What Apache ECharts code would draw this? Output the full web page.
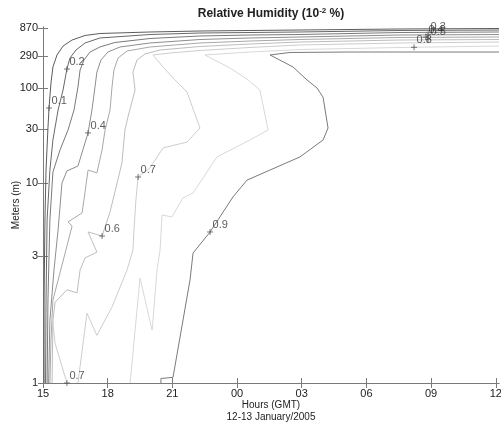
<!DOCTYPE html>
<html>
<head>
<meta charset="utf-8">
<script src="https://cdn.jsdelivr.net/npm/echarts@6/dist/echarts.min.js"></script>
<style>
  html, body { margin: 0; background: #fff; }
  #chart { width: 501px; height: 425px; }
</style>
</head>
<body>
<div id="chart"></div>
<script>
// x: hours after 15 GMT on 12 Jan, y: height in meters
const hourTicks = [0, 3, 6, 9, 12, 15, 18, 21];
const hourLabels = ["15", "18", "21", "00", "03", "06", "09", "12"];
const heightTicks = [1, 3, 10, 30, 100, 290, 870];
// where each height tick sits on the (stretched) vertical axis of the original plot
const heightTickPos = [0, 127, 200, 254, 295, 327, 355];

// contour lines, [hour, meters]
const rh01 = [[0.05,1],[0.05,2.05],[0.09,5.43],[0.14,13.0],[0.23,30.9],[0.28,55.6],[0.37,118],[0.46,201],[0.65,302],[0.93,429],[1.35,543],[1.95,649],[2.64,701],[4.96,744],[7.28,773],[9.60,789],[11.92,804],[16.56,837],[21.15,853]];
const rh02 = [[0.12,1],[0.14,2.05],[0.19,5.43],[0.32,13.0],[0.46,24.0],[0.70,52.4],[0.93,94.3],[1.11,188],[1.25,271],[1.53,367],[1.95,483],[2.64,588],[4.96,674],[7.28,715],[9.60,729],[11.92,744],[16.56,789],[21.15,804]];
const rh03 = [[0.19,1],[0.23,2.05],[0.32,5.43],[0.46,12.5],[0.79,19.6],[1.16,29.4],[1.44,52.4],[1.62,103],[1.72,182],[1.90,254],[2.18,339],[2.64,413],[3.34,493],[4.96,576],[7.28,636],[9.60,661],[11.92,674],[16.56,729],[21.15,744]];
const rh04 = [[0.26,1],[0.32,1.72],[0.51,2.66],[0.70,4.61],[0.88,10],[1.11,12.8],[1.62,14.1],[2.09,27.7],[2.27,52.4],[2.41,103],[2.50,170],[2.69,254],[3.01,339],[3.57,413],[4.96,483],[7.28,554],[9.60,588],[11.92,611],[16.56,661],[21.15,674]];
const rh05 = [[0.32,1],[0.37,1.45],[0.46,2.05],[0.88,2.77],[1.35,4.92],[1.16,5.26],[1.81,6.10],[1.90,7.55],[2.09,13.0],[2.50,12.3],[2.74,19.6],[2.88,29.4],[3.11,52.4],[3.20,103],[3.29,182],[3.48,271],[3.90,353],[4.96,413],[7.28,483],[9.60,522],[11.92,554],[16.56,600],[21.15,611]];
const rh06 = [[0.42,1],[0.46,1.72],[0.56,2.01],[1.11,2.24],[1.58,2.18],[1.72,2.66],[1.95,2.95],[2.50,3.20],[2.09,4.46],[2.74,4.17],[3.11,6.20],[3.66,15.0],[3.80,29.4],[3.94,42.7],[4.27,94.3],[4.17,170],[4.36,254],[4.73,314],[5.43,367],[7.28,421],[9.60,464],[11.92,502],[16.56,543],[21.15,554]];
const rh07 = [[21.15,502],[16.56,483],[11.92,447],[9.60,405],[7.28,360],[5.89,326],[5.10,302],[5.57,201],[6.12,131],[6.68,88.9],[7.28,30.9],[6.68,23.0],[5.57,20.4],[4.96,13.6],[4.41,11.3],[4.31,7.55],[4.22,4.61],[4.17,3.31],[3.90,2.66],[3.20,1.93],[2.50,1.51],[2.04,1.83],[1.62,1]];
const rh07b = [[0.42,1.80],[0.56,1.41],[1.11,1]];
const rh08 = [[21.15,429],[16.56,405],[11.92,374],[9.60,339],[7.51,302],[8.67,195],[9.51,131],[10.06,94.3],[10.44,29.4],[9.60,24.0],[8.07,17.0],[6.96,8.48],[6.49,7.81],[5.98,5.71],[5.52,5.90],[5.43,3.31],[5.29,2.66],[5.06,1.58],[4.50,2.48],[4.04,1]];
const rh09 = [[21.15,339],[14.24,339],[11.46,333],[10.53,302],[11.60,201],[12.24,131],[12.71,100],[12.99,76.3],[13.22,30.9],[12.99,24.0],[11.92,17.0],[9.46,10.6],[8.81,7.94],[7.75,4.46],[6.96,3.15],[6.82,2.44],[6.03,1.05],[5.47,1.04],[5.47,1]];

// contour labels
const labelTexts = ["0.1", "0.2", "0.4", "0.7", "0.6", "0.9", "0.7", "0.8", "0.3", "0.4", "0.5"];
const labelHours = [0.28, 1.11, 2.09, 4.41, 2.74, 7.75, 1.11, 17.21, 17.86, 17.76, 17.86];
const labelMeters = [55.6, 188, 27.7, 11.3, 4.17, 4.46, 1, 408, 680, 611, 560];

const contours = [
  { pts: rh01, color: "#5c5c5c" },
  { pts: rh02, color: "#686868" },
  { pts: rh03, color: "#7a7a7a" },
  { pts: rh04, color: "#8e8e8e" },
  { pts: rh05, color: "#a8a8a8" },
  { pts: rh06, color: "#bdbdbd" },
  { pts: rh07, color: "#cdcdcd" },
  { pts: rh07b, color: "#cdcdcd" },
  { pts: rh08, color: "#d8d8d8" },
  { pts: rh09, color: "#7a7a7a" },
];

const logTicks = heightTicks.map(Math.log10);
function toLevel(m) {
  const lg = Math.log10(m);
  let i = 0;
  while (i < logTicks.length - 2 && lg > logTicks[i + 1]) i++;
  return heightTickPos[i] +
    (lg - logTicks[i]) / (logTicks[i + 1] - logTicks[i]) * (heightTickPos[i + 1] - heightTickPos[i]);
}

const frameColor = "#7a7a7a";
const font = "'Liberation Sans', Arial, sans-serif";

const chart = echarts.init(document.getElementById("chart"), null, { renderer: "canvas" });

const tickStyle = { show: true, inside: true, length: 5, lineStyle: { color: frameColor } };

const option = {
  animation: false,
  textStyle: { fontFamily: font },
  title: {
    text: "{t|Relative Humidity (10}{s|-2}{t| %)}",
    left: 266,
    textAlign: "center",
    top: 2,
    textStyle: {
      rich: {
        t: { fontSize: 12, fontWeight: "bold", color: "#222", fontFamily: font },
        s: { fontSize: 8, fontWeight: "bold", color: "#222", fontFamily: font, verticalAlign: "top", padding: [0, 0, 5, 0] },
      },
    },
  },
  grid: { left: 43, right: 2, top: 27, bottom: 42, show: false, containLabel: false, outerBoundsMode: "none" },
  xAxis: [
    {
      type: "value",
      min: 0,
      max: 21.15,
      position: "bottom",
      axisLine: { show: true, lineStyle: { color: frameColor } },
      axisTick: { ...tickStyle, customValues: hourTicks },
      axisLabel: {
        customValues: hourTicks,
        formatter: (v) => hourLabels[hourTicks.indexOf(v)] || "",
        color: "#222",
        fontSize: 11,
        margin: 5,
      },
      splitLine: { show: false },
      name: "Hours (GMT)\n12-13 January/2005",
      nameLocation: "middle",
      nameGap: 16,
      nameMoveOverlap: false,
      nameTextStyle: { fontSize: 10, color: "#222", lineHeight: 12, verticalAlign: "top" },
    },
    {
      type: "value",
      min: 0,
      max: 21.15,
      position: "top",
      axisLine: { show: true, lineStyle: { color: frameColor } },
      axisTick: { ...tickStyle, customValues: hourTicks },
      axisLabel: { show: false },
      splitLine: { show: false },
    },
  ],
  yAxis: [
    {
      type: "value",
      min: 0,
      max: 356,
      position: "left",
      axisLine: { show: true, lineStyle: { color: frameColor } },
      axisTick: { ...tickStyle, customValues: heightTickPos },
      axisLabel: {
        customValues: heightTickPos,
        formatter: (v) => {
          const i = heightTickPos.indexOf(v);
          return i < 0 ? "" : String(heightTicks[i]);
        },
        color: "#222",
        fontSize: 11,
        margin: 5,
      },
      splitLine: { show: false },
      name: "Meters (m)",
      nameLocation: "middle",
      nameGap: 22,
      nameMoveOverlap: false,
      nameTextStyle: { fontSize: 10, color: "#222" },
    },
    {
      type: "value",
      min: 0,
      max: 356,
      position: "right",
      axisLine: { show: true, lineStyle: { color: frameColor } },
      axisTick: { ...tickStyle, customValues: heightTickPos },
      axisLabel: { show: false },
      splitLine: { show: false },
    },
  ],
  series: [
    ...contours.map((c) => ({
      type: "line",
      data: c.pts.map(([h, m]) => [h, toLevel(m)]),
      showSymbol: false,
      symbol: "none",
      silent: true,
      clip: true,
      lineStyle: { color: c.color, width: 1 },
    })),
    {
      type: "scatter",
      silent: true,
      symbol: "path://M0,4L8,4M4,0L4,8",
      symbolSize: 6,
      itemStyle: { color: "transparent", borderColor: "#555", borderWidth: 1 },
      data: labelTexts.map((t, i) => ({ name: t, value: [labelHours[i], toLevel(labelMeters[i])] })),
      label: {
        show: true,
        position: "right",
        distance: 0,
        offset: [-1, -7],
        formatter: "{b}",
        fontSize: 11,
        color: "#333",
      },
      z: 5,
    },
  ],
};

chart.setOption(option);
</script>
</body>
</html>
